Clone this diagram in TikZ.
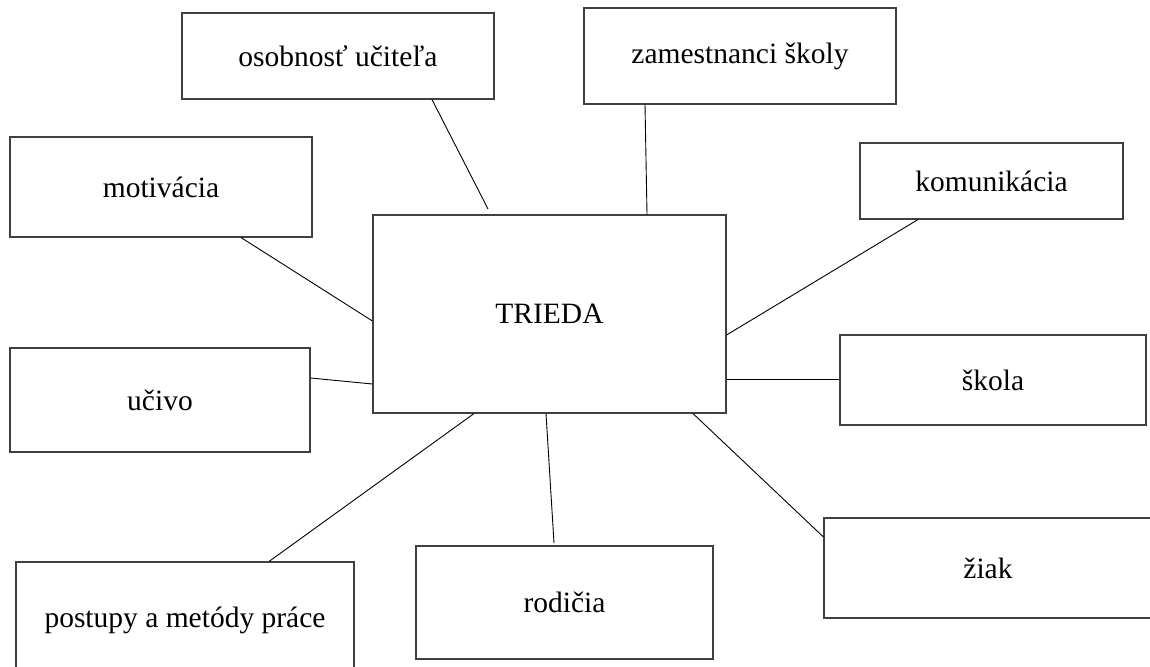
\documentclass[tikz,border=0pt]{standalone}
\usepackage{fontspec}
\setmainfont{Liberation Serif}
\begin{document}
\begin{tikzpicture}[x=1pt,y=-1pt,
  cbox/.style={draw=black!75,line width=1.1pt,rectangle,inner sep=0pt,
    font=\fontsize{29.5}{34}\selectfont,text=black},
  link/.style={draw=black,line width=0.9pt}]
\clip (0,0) rectangle (1150,666);
\fill[white] (0,0) rectangle (1150,666);
\node[cbox,minimum width=312pt,minimum height=86pt] (osob) at (338,56) {osobnosť učiteľa};
\node[cbox,minimum width=312pt,minimum height=96pt] (zam) at (740,56) {zamestnanci školy};
\node[cbox,minimum width=302pt,minimum height=100pt] (motiv) at (161,187) {motivácia};
\node[cbox,minimum width=263pt,minimum height=76pt] (komun) at (991.5,181) {komunikácia};
\node[cbox,minimum width=353pt,minimum height=198pt] (trieda) at (549.5,314) {TRIEDA};
\node[cbox,minimum width=300pt,minimum height=104pt] (ucivo) at (160,400) {učivo};
\node[cbox,minimum width=306pt,minimum height=90pt] (skola) at (993,380) {škola};
\node[cbox,minimum width=328pt,minimum height=100pt] (ziak) at (988,568) {žiak};
\node[cbox,minimum width=338pt,minimum height=116pt] (postupy) at (185,620) {postupy a metódy práce};
\node[cbox,minimum width=297pt,minimum height=113pt] (rodicia) at (564.5,602.5) {rodičia};
\draw[link] (432,0 |- osob.south) -- (488,209);
\draw[link] (645,0 |- zam.south) -- (647,0 |- trieda.north);
\draw[link] (241,0 |- motiv.south) -- (trieda.west |- 0,321);
\draw[link] (918,0 |- komun.south) -- (trieda.east |- 0,335);
\draw[link] (ucivo.east |- 0,378) -- (trieda.west |- 0,384);
\draw[link] (trieda.east |- 0,379) -- (skola.west |- 0,379);
\draw[link] (474,0 |- trieda.south) -- (269,0 |- postupy.north);
\draw[link] (546,0 |- trieda.south) -- (554,543);
\draw[link] (693,0 |- trieda.south) -- (ziak.west |- 0,537);
\end{tikzpicture}
\end{document}
